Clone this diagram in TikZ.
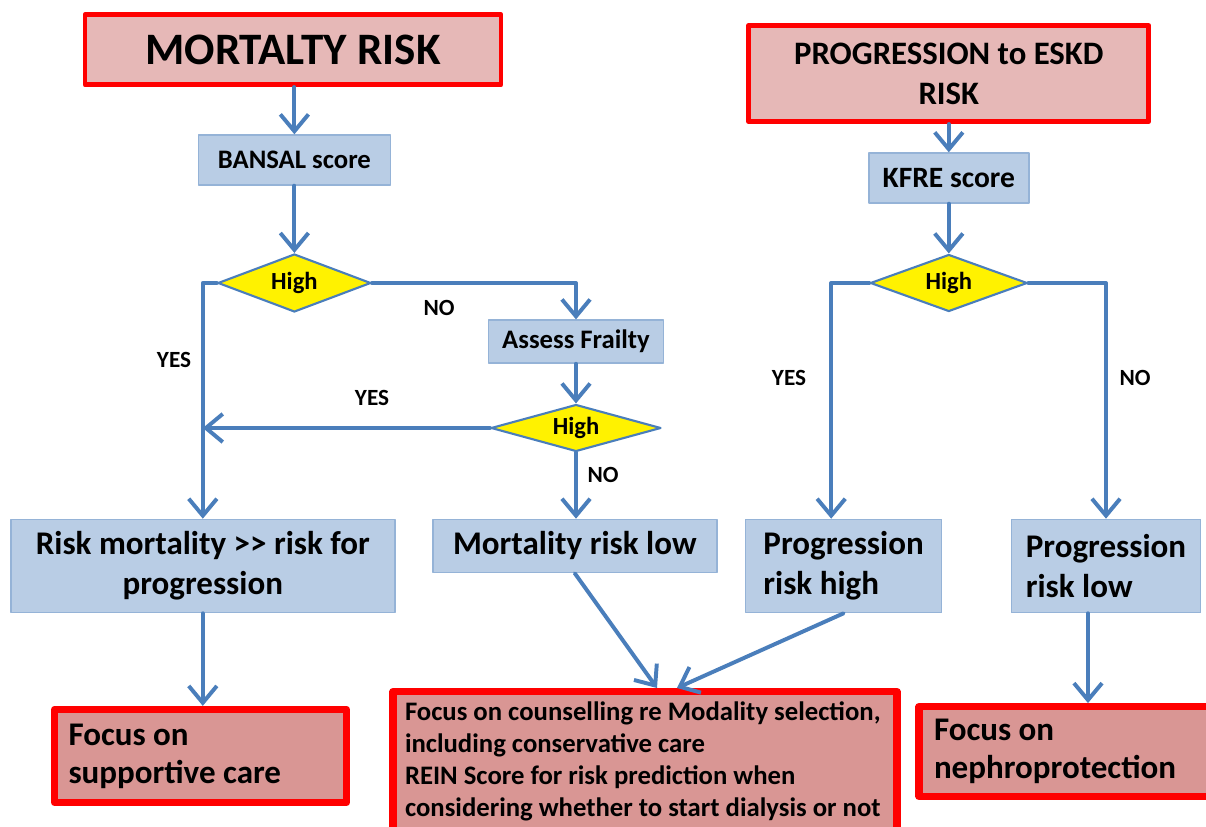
\documentclass[tikz,border=0pt]{standalone}
\usepackage{fontspec}
\setmainfont{Carlito}
\usetikzlibrary{arrows.meta,shapes.geometric}

\definecolor{riskred}{RGB}{255,0,0}
\definecolor{headpink}{RGB}{230,184,183}
\definecolor{focuspink}{RGB}{217,150,148}
\definecolor{stepfill}{RGB}{185,205,229}
\definecolor{stepedge}{RGB}{149,179,215}
\definecolor{flowblue}{RGB}{74,126,187}

\tikzset{
  headbox/.style={draw=riskred, fill=headpink, line width=3.5pt, align=center},
  focusbox/.style={draw=riskred, fill=focuspink, line width=5pt, align=flush left},
  stepbox/.style={draw=stepedge, fill=stepfill, line width=1pt, align=center},
  decision/.style={diamond, aspect=2.5, draw=flowblue, fill=yellow, line width=1.5pt, inner sep=0pt,
    font=\bfseries\fontsize{17.5}{20}\selectfont},
  answer/.style={font=\bfseries\fontsize{16.5}{19}\selectfont},
  flow/.style={draw=flowblue, line width=2.8pt, -{Straight Barb[length=12pt,width=20pt]}},
}

\begin{document}
\begin{tikzpicture}[line cap=round,line join=round]
  \useasboundingbox (0,0) rectangle (30.15,-20.675);
  % 左列：死亡风险
  \node[headbox, minimum width=10.4cm, minimum height=1.75cm,
    font=\bfseries\fontsize{32}{38}\selectfont] (mort) at (7.325,-1.24) {MORTALTY RISK};
  \node[stepbox, minimum width=4.8cm, minimum height=1.25cm,
    font=\bfseries\fontsize{19}{23}\selectfont] (bansal) at (7.36,-4.0) {BANSAL score};
  \node[decision, minimum width=3.825cm, minimum height=1.45cm] (hiA) at (7.36,-7.075) {High};
  \node[stepbox, minimum width=4.375cm, minimum height=1.075cm,
    font=\bfseries\fontsize{19}{23}\selectfont] (frailty) at (14.4,-8.54) {Assess Frailty};
  \node[decision, minimum width=4.25cm, minimum height=1.175cm] (hiB) at (14.4,-10.7) {High};
  \node[stepbox, minimum width=9.6cm, minimum height=2.33cm,
    font=\bfseries\fontsize{23.5}{28.5}\selectfont] (riskmort) at (5.07,-14.15) {Risk mortality >{}> risk for\\progression};
  \node[stepbox, minimum width=7.1cm, minimum height=1.33cm,
    font=\bfseries\fontsize{23.5}{28.5}\selectfont] (mortlow) at (14.37,-13.65) {Mortality risk low};
  % 右列：进展风险
  \node[headbox, minimum width=10.0cm, minimum height=2.4cm,
    font=\bfseries\fontsize{23.3}{28.5}\selectfont] (prog) at (23.72,-1.84) {PROGRESSION to ESKD\\RISK};
  \node[stepbox, minimum width=4.0cm, minimum height=1.25cm,
    font=\bfseries\fontsize{21}{25}\selectfont] (kfre) at (23.72,-4.45) {KFRE score};
  \node[decision, minimum width=3.925cm, minimum height=1.425cm] (hiC) at (23.72,-7.075) {High};
  \node[stepbox, align=left, minimum width=4.9cm, minimum height=2.33cm,
    font=\bfseries\fontsize{23.5}{28.5}\selectfont] (proghigh) at (21.09,-14.15) {Progression\\risk high};
  \node[stepbox, align=left, minimum width=4.73cm, minimum height=2.33cm,
    font=\bfseries\fontsize{23.5}{28.5}\selectfont] (proglow) at (27.65,-14.15) {Progression\\risk low};
  % 底行
  \node[focusbox, minimum width=7.3cm, minimum height=2.33cm, text width=6.6cm, inner xsep=0.35cm,
    font=\bfseries\fontsize{23.5}{27}\selectfont] (support) at (5.0125,-18.9) {Focus on\\supportive care};
  \node[focusbox, anchor=north, inner xsep=0.3cm, inner ysep=0.25cm,
    font=\bfseries\fontsize{19}{22.8}\selectfont] (counsel) at (16.125,-17.2)
    {\parbox[t][4.6cm][t]{12.0cm}{\raggedright Focus on counselling re Modality selection,\\including conservative care\\REIN Score for risk prediction when\\considering whether to start dialysis or not}};
  \node[focusbox, minimum width=7.3cm, minimum height=2.25cm, text width=6.6cm, inner xsep=0.375cm,
    font=\bfseries\fontsize{23.5}{27}\selectfont] (nephro) at (26.65,-18.79) {Focus on\\nephroprotection};
  % 是／否
  \node[answer] (yesA) at (4.35,-9.0) {YES};
  \node[answer] (noA) at (10.975,-7.7) {NO};
  \node[answer] (yesB) at (9.3,-9.95) {YES};
  \node[answer] (noB) at (15.075,-11.875) {NO};
  \node[answer] (yesC) at (19.725,-9.45) {YES};
  \node[answer] (noC) at (28.375,-9.45) {NO};
  % 箭头
  \draw[flow] (bansal.north |- mort.south) -- (bansal.north);
  \draw[flow] (bansal) -- (hiA);
  \draw[flow] (hiA.west) -| (riskmort.north);
  \draw[flow] (hiA.east) -| (frailty.north);
  \draw[flow] (frailty) -- (hiB);
  \draw[flow] (hiB.west) -- (hiB.west -| riskmort.north);
  \draw[flow] (hiB) -- (hiB |- mortlow.north);
  \draw[flow] (riskmort.south) -- (riskmort.south |- support.north);
  \draw[flow] (mortlow.south) -- ([xshift=0.3cm]counsel.north);
  \draw[flow] (proghigh.south) -- ([xshift=0.8cm]counsel.north);
  \draw[flow] (prog) -- (kfre);
  \draw[flow] (kfre) -- (hiC);
  \draw[flow] (hiC.west) -| ([xshift=-0.31cm]proghigh.north);
  \draw[flow] (hiC.east) -| (proglow.north);
  \draw[flow] ([xshift=-0.45cm]proglow.south) -- ([xshift=-0.45cm]proglow.south |- nephro.north);
\end{tikzpicture}
\end{document}
